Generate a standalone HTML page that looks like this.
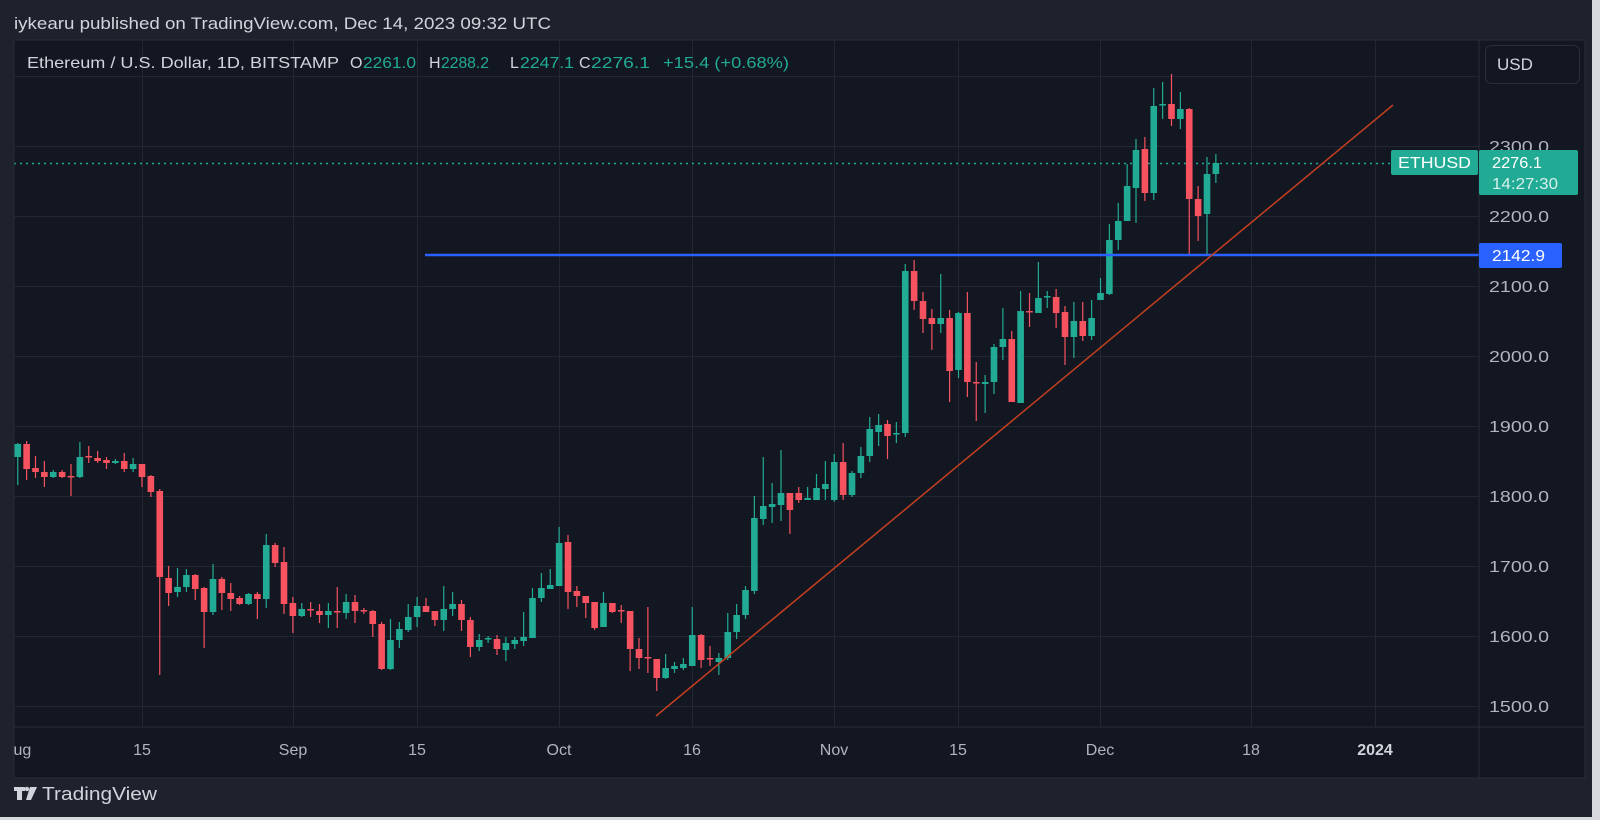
<!DOCTYPE html>
<html><head><meta charset="utf-8"><style>
html,body{margin:0;padding:0;background:#1e222d;}
svg{display:block;font-family:"Liberation Sans",sans-serif;}
</style></head><body>
<svg id="s" width="1600" height="820" xmlns="http://www.w3.org/2000/svg">
<rect x="0" y="0" width="1600" height="820" fill="#1e222d"/>
<rect x="1592" y="0" width="8" height="820" fill="#d8d9dc"/>
<rect x="0" y="817" width="1600" height="3" fill="#d8d9dc"/>
<text x="14" y="29" font-size="17" fill="#d1d4dc" textLength="537" lengthAdjust="spacingAndGlyphs">iykearu published on TradingView.com, Dec 14, 2023 09:32 UTC</text>
<rect x="14" y="40" width="1571" height="738" fill="#131722" stroke="#2a2e39" stroke-width="1"/>
<g id="grid" stroke="#232733" stroke-width="1"></g>
<line x1="1479" y1="40" x2="1479" y2="778" stroke="#2a2e39"/>
<line x1="14" y1="727" x2="1585" y2="727" stroke="#2a2e39"/>
<defs><clipPath id="cp"><rect x="14.5" y="40" width="1464" height="687"/></clipPath></defs>
<g id="plot" clip-path="url(#cp)"></g>
<g id="lbl" font-size="16" fill="#b2b5be"></g>
<text x="27" y="68" font-size="16" fill="#d1d4dc" textLength="312" lengthAdjust="spacingAndGlyphs">Ethereum / U.S. Dollar, 1D, BITSTAMP</text>
<text x="350" y="68" font-size="16" fill="#d1d4dc">O</text><text x="363" y="68" font-size="16" fill="#22ab94" textLength="53" lengthAdjust="spacingAndGlyphs">2261.0</text>
<text x="429" y="68" font-size="16" fill="#d1d4dc">H</text><text x="441" y="68" font-size="16" fill="#22ab94" textLength="48" lengthAdjust="spacingAndGlyphs">2288.2</text>
<text x="510" y="68" font-size="16" fill="#d1d4dc">L</text><text x="520" y="68" font-size="16" fill="#22ab94" textLength="54" lengthAdjust="spacingAndGlyphs">2247.1</text>
<text x="579" y="68" font-size="16" fill="#d1d4dc">C</text><text x="591" y="68" font-size="16" fill="#22ab94" textLength="59" lengthAdjust="spacingAndGlyphs">2276.1</text>
<text x="663" y="68" font-size="16" fill="#22ab94" textLength="126" lengthAdjust="spacingAndGlyphs">+15.4 (+0.68%)</text>
<rect x="1485.5" y="45.5" width="94" height="38" rx="6" fill="#131722" stroke="#2a2e39"/>
<text x="1497" y="70" font-size="17" fill="#d1d4dc">USD</text>
<g font-size="16" fill="#fff">
<rect x="1391" y="150" width="87" height="25" rx="2" fill="#22ab94"/>
<text x="1398" y="168" textLength="73" lengthAdjust="spacingAndGlyphs">ETHUSD</text>
<rect x="1479" y="150" width="99" height="45" rx="2" fill="#22ab94"/>
<text x="1492" y="168" textLength="50" lengthAdjust="spacingAndGlyphs">2276.1</text>
<text x="1492" y="189" textLength="66" lengthAdjust="spacingAndGlyphs" fill="#d6f0ec">14:27:30</text>
<rect x="1479" y="243" width="83" height="25" rx="2" fill="#2962ff"/>
<text x="1492" y="261" textLength="53" lengthAdjust="spacingAndGlyphs">2142.9</text>
</g>
<g fill="#d1d4dc">
<path d="M14 787 h11 v4 h-3 v9 h-5 v-9 h-3z"/><circle cx="27" cy="789" r="2.2"/><path d="M30 787 h7 l-6 13 h-5z"/>
<text x="42" y="800" font-size="18" textLength="115" lengthAdjust="spacingAndGlyphs">TradingView</text>
</g>
</svg>
<script>
var NS="http://www.w3.org/2000/svg";
function el(p,t,a,txt){var e=document.createElementNS(NS,t);for(var k in a)e.setAttribute(k,a[k]);if(txt!==undefined)e.textContent=txt;p.appendChild(e);return e;}
var grid=document.getElementById('grid'),plot=document.getElementById('plot'),lbl=document.getElementById('lbl');
var vx=[142,293,417,559,692,834,958,1100,1251,1375];
vx.forEach(function(x){el(grid,'line',{x1:x+.5,y1:40,x2:x+.5,y2:727});});
for(var p=1500;p<=2400;p+=100){var y=146+(2300-p)*0.7;el(grid,'line',{x1:14,y1:y+.5,x2:1479,y2:y+.5});
 if(p<2400)el(lbl,'text',{x:1489,y:y+6,textLength:60,lengthAdjust:'spacingAndGlyphs'},p+'.0');}
var dl=[[142,'15'],[293,'Sep'],[417,'15'],[559,'Oct'],[692,'16'],[834,'Nov'],[958,'15'],[1100,'Dec'],[1251,'18'],[1375,'2024']];
dl.forEach(function(d){var t=el(lbl,'text',{x:d[0],y:755,'text-anchor':'middle'},d[1]);if(d[1]=='2024'){t.setAttribute('font-weight','bold');t.setAttribute('fill','#d1d4dc');}});
var cl=el(document.getElementById('s'),'clipPath',{id:'cl'});el(cl,'rect',{x:14.5,y:730,width:100,height:40});
el(lbl,'text',{x:17,y:755,'text-anchor':'middle','clip-path':'url(#cl)'},'Aug');
var C=[
[457,444,443,485],[444,469,441,480],[468,472,456,478],[472,477,461,487],[477,472,470,478],[472,477,470,478],[476,477,464,496],[477,457,442,478],[456,457,446,463],[458,461,451,463],
[460,463,457,469],[463,461,459,464],[461,469,453,472],[469,464,458,472],[464,477,464,487],[476,492,475,497],[491,577,489,675],[578,593,566,606],[592,587,568,597],[587,575,569,592],
[575,589,574,600],[588,612,587,648],[612,579,564,615],[579,593,577,610],[593,599,583,611],[598,604,596,605],[604,594,593,605],[594,599,592,619],[599,545,534,608],[545,563,543,567],
[562,604,547,614],[603,616,597,633],[616,609,603,617],[609,610,602,617],[611,615,604,623],[615,611,603,628],[611,612,587,628],[613,602,594,619],[602,611,595,623],[610,611,608,614],
[611,624,610,637],[624,669,622,670],[669,640,619,670],[640,629,622,648],[630,617,604,632],[617,606,597,627],[606,612,598,612],[611,620,611,626],[620,609,586,631],[609,604,592,616],
[604,620,600,631],[620,647,617,657],[647,640,634,651],[639,638,636,643],[639,649,635,655],[650,643,637,661],[644,640,637,649],[641,637,612,646],[638,598,588,638],[598,588,573,602],
[589,585,569,589],[586,543,527,586],[542,592,535,609],[591,596,586,607],[596,603,596,618],[602,628,602,630],[627,603,592,627],[603,612,603,613],[610,611,605,623],[611,649,611,671],
[649,658,638,669],[657,658,607,673],[659,678,659,691],[678,668,654,679],[669,666,662,673],[668,664,658,670],[666,635,607,666],[635,660,634,668],[658,659,646,666],[662,658,653,675],
[658,632,613,660],[632,615,604,639],[615,590,586,619],[591,518,496,594],[519,506,457,525],[507,504,483,523],[505,493,450,521],[493,510,493,534],[493,500,487,503],[500,498,487,500],
[500,488,474,500],[489,484,461,500],[500,462,454,502],[462,495,443,500],[495,473,471,497],[473,456,447,478],[456,429,417,462],[432,425,414,446],[424,436,420,459],[434,433,422,443],
[433,271,264,437],[271,301,260,310],[301,319,292,333],[318,324,309,350],[324,318,274,333],[318,371,310,402],[370,313,312,378],[313,382,292,397],[382,383,362,421],[384,382,375,413],
[382,347,344,394],[347,339,308,360],[339,402,331,402],[403,311,291,403],[311,312,293,327],[313,298,262,313],[297,296,291,308],[297,313,289,328],[312,337,306,365],[337,321,302,358],
[321,336,302,341],[336,318,300,340],[300,293,278,300],[294,240,224,295],[240,221,203,250],[221,186,164,221],[188,150,139,223],[149,193,137,201],[193,106,88,200],[105,104,82,119],
[104,119,74,126],[119,109,92,129],[109,199,108,255],[199,216,186,241],[214,174,157,255],[174,163,154,183]];
el(plot,'line',{x1:14,y1:163.5,x2:1391,y2:163.5,stroke:'#22ab94','stroke-width':1.5,'stroke-dasharray':'2 4'});
C.forEach(function(c,i){var x=17.75+8.875*i;var up=c[1]<c[0];var col=up?'#22ab94':'#f7525f';
 el(plot,'line',{x1:x,y1:c[2],x2:x,y2:c[3],stroke:col,'stroke-width':1.2});
 var t=Math.min(c[0],c[1]),h=Math.max(1.5,Math.abs(c[0]-c[1]));
 el(plot,'rect',{x:x-3.3,y:t,width:6.6,height:h,fill:col});});
el(plot,'line',{x1:425,y1:255,x2:1479,y2:255,stroke:'#2962ff','stroke-width':2.5});
el(plot,'line',{x1:656,y1:716,x2:1393,y2:105,stroke:'#c43f1f','stroke-width':1.5});
</script>
</body></html>
